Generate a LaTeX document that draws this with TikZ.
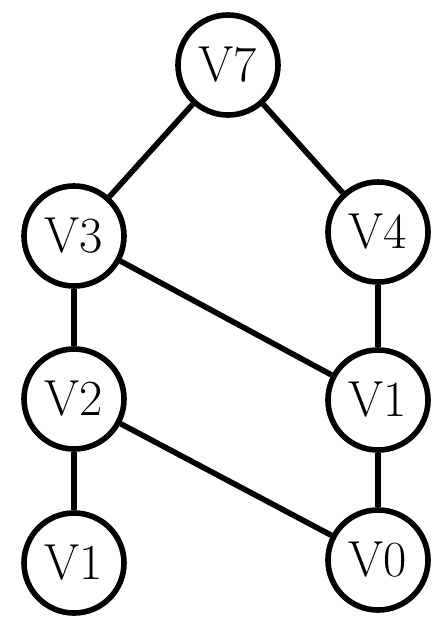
\documentclass[tikz,border=0pt]{standalone}
\usetikzlibrary{positioning}
\begin{document}
\begin{tikzpicture}[x=0.025cm,y=-0.025cm]
\tikzset{
  vnode/.style={circle,draw=black,line width=0.14cm,minimum size=2.5cm,inner sep=0pt,font=\fontsize{36}{42}\selectfont},
  vedge/.style={draw=black,line width=0.14cm}
}
\useasboundingbox (0,0) rectangle (448,641);
\node[vnode] (n_v7) at (228,65) {V7};
\node[vnode] (n_v3) at (74,236) {V3};
\node[vnode] (n_v4) at (378,232) {V4};
\node[vnode] (n_v2) at (74,399) {V2};
\node[vnode] (n_v1r) at (378,400) {V1};
\node[vnode] (n_v1l) at (74,563) {V1};
\node[vnode] (n_v0) at (378,560) {V0};
\draw[vedge] (n_v7) -- (n_v3);
\draw[vedge] (n_v7) -- (n_v4);
\draw[vedge] (n_v3) -- (n_v2);
\draw[vedge] (n_v3) -- (n_v1r);
\draw[vedge] (n_v4) -- (n_v1r);
\draw[vedge] (n_v2) -- (n_v1l);
\draw[vedge] (n_v2) -- (n_v0);
\draw[vedge] (n_v1r) -- (n_v0);
\end{tikzpicture}
\end{document}
